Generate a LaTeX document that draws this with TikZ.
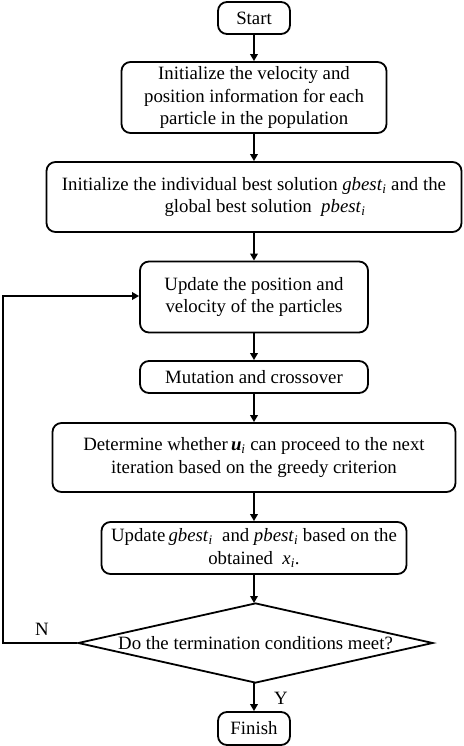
\documentclass[tikz,border=0pt]{standalone}
\usepackage{fontspec}
\setmainfont{Liberation Serif}
\usetikzlibrary{shapes.geometric,arrows.meta}
\newcommand{\sbi}[1]{\textit{#1}\textsubscript{\textit{i}}}
\begin{document}
\begin{tikzpicture}[x=1pt,y=-1pt,
  every node/.style={font=\fontsize{18.8}{22.5}\selectfont},
  procbox/.style={draw,line width=1.8pt,rounded corners=9pt,align=center,inner sep=0pt},
  decbox/.style={draw,line width=1.8pt,diamond,aspect=4.4,inner sep=0pt,align=center},
  flow/.style={line width=1.8pt,-{Triangle[length=7pt,width=7.5pt]}},
  lbl/.style={font=\fontsize{18.8}{20}\selectfont}]
\useasboundingbox (0,0) rectangle (463,746);
\node[procbox,minimum width=72pt,minimum height=32pt] (start) at (254,18) {Start};
\node[procbox,minimum width=265pt,minimum height=71pt] (b1) at (254,97.5) {Initialize the velocity and\\position information for each\\particle in the population};
\node[procbox,minimum width=415pt,minimum height=70pt] (b2) at (254,197) {Initialize the individual best solution \sbi{gbest} and the\\\hspace*{22pt}global best solution \ \sbi{pbest}};
\node[procbox,minimum width=228pt,minimum height=71pt] (b3) at (254,297) {Update the position and\\velocity of the particles};
\node[procbox,minimum width=228pt,minimum height=32pt] (b4) at (254,377) {Mutation and crossover};
\node[procbox,minimum width=403pt,minimum height=69pt] (b5) at (254,457.5) {Determine whether\,\textbf{\textit{u}}\textsubscript{\textit{i}} can proceed to the next\\iteration based on the greedy criterion};
\node[procbox,minimum width=305pt,minimum height=52pt] (b6) at (254,548) {Update\,\sbi{gbest} \ and \sbi{pbest} based on the\\obtained \ \sbi{x}.};
\node[decbox,minimum width=355pt,minimum height=80pt] (dec) at (255.5,643) {Do the termination conditions meet?};
\node[procbox,minimum width=72pt,minimum height=33pt] (fin) at (254,728.5) {Finish};
\coordinate (c1) at (3,643);
\coordinate (c2) at (3,296);
\coordinate (dtop) at (254,603);
\coordinate (dbot) at (254,683);
\draw[flow] (start) -- (b1);
\draw[flow] (b1) -- (b2);
\draw[flow] (b2) -- (b3);
\draw[flow] (b3) -- (b4);
\draw[flow] (b4) -- (b5);
\draw[flow] (b5) -- (b6);
\draw[flow] (b6.south) -- (dtop);
\draw[flow] (dbot) -- (fin);
\draw[flow] (dec.west) -- (c1) -- (c2) -- (c2 -| b3.west);
\node[lbl] (nl) at (42,629) {N};
\node[lbl] (yl) at (281,698) {Y};
\end{tikzpicture}
\end{document}
